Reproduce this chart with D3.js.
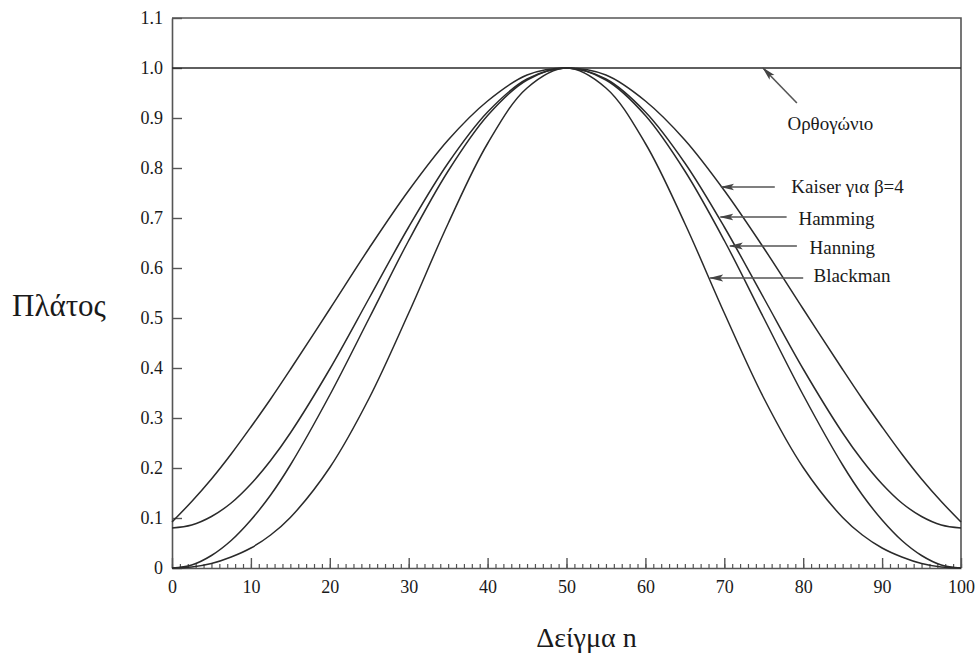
<!DOCTYPE html>
<html>
<head>
<meta charset="utf-8">
<script src="https://cdn.jsdelivr.net/npm/d3@7"></script>
<style>
  html, body { margin: 0; padding: 0; background: #ffffff; }
  svg { display: block; }
  svg text { font-family: "Liberation Serif", "Times New Roman", Tinos, "DejaVu Serif", serif !important; fill: #1a1a1a; }
</style>
</head>
<body>
<svg id="chart" width="979" height="657"></svg>
<script>
// ---- data ----
const samples = [0,2.5,5,7.5,10,12.5,15,20,25,30,35,40,45,50,55,60,65,70,75,80,85,87.5,90,92.5,95,97.5,100];
const rectangular = [1,1,1,1,1,1,1,1,1,1,1,1,1,1,1,1,1,1,1,1,1,1,1,1,1,1,1];
const kaiser   = [0.092,0.133,0.178,0.228,0.282,0.338,0.397,0.518,0.640,0.755,0.856,0.934,0.986,1.000,0.986,0.934,0.856,0.755,0.640,0.518,0.397,0.338,0.282,0.228,0.178,0.133,0.092];
const hamming  = [0.080,0.086,0.103,0.130,0.168,0.215,0.270,0.398,0.540,0.682,0.810,0.912,0.978,1.000,0.978,0.912,0.810,0.682,0.540,0.398,0.270,0.215,0.168,0.130,0.103,0.086,0.080];
const hanning  = [0.000,0.006,0.025,0.055,0.096,0.146,0.206,0.346,0.500,0.655,0.794,0.905,0.976,1.000,0.976,0.905,0.794,0.655,0.500,0.346,0.206,0.146,0.096,0.055,0.025,0.006,0.000];
const blackman = [0.000,0.002,0.009,0.022,0.040,0.066,0.101,0.201,0.340,0.510,0.689,0.849,0.960,1.000,0.960,0.849,0.689,0.510,0.340,0.201,0.101,0.066,0.040,0.022,0.009,0.002,0.000];
const xTickValues = [0,10,20,30,40,50,60,70,80,90,100];
const yTickValues = [0,0.1,0.2,0.3,0.4,0.5,0.6,0.7,0.8,0.9,1.0,1.1];
const yTickLabels = ["0","0.1","0.2","0.3","0.4","0.5","0.6","0.7","0.8","0.9","1.0","1.1"];
const annLabels = ["Ορθογώνιο","Kaiser για β=4","Hamming","Hanning","Blackman"];
const annTip    = [[74.9,1.0],[69.6,0.762],[69.5,0.702],[70.7,0.644],[68.2,0.580]];
const annTail   = [[79.2,0.930],[76.4,0.762],[77.9,0.702],[79.2,0.644],[80.0,0.580]];
const annText   = [[78.0,0.884],[78.5,0.758],[79.4,0.695],[80.8,0.637],[81.3,0.580]];
const xTitle = "Δείγμα n";
const yTitle = "Πλάτος";

// ---- layout ----
const svg = d3.select("#chart");
const mLeft = 172, mRight = 961, mTop = 18, mBottom = 568;
const x = d3.scaleLinear().domain([0,100]).range([mLeft,mRight]);
const y = d3.scaleLinear().domain([0,1.1]).range([mBottom,mTop]);
const axisColor = "#555";
const lineColor = "#2a2a2a";

// frame (top and right edges)
svg.append("path")
  .attr("d", `M${x(0)},${y(1.1)}H${x(100)}V${y(0)}`)
  .attr("fill","none").attr("stroke",axisColor).attr("stroke-width",1.6);

// y axis
const yAxis = d3.axisLeft(y).tickValues(yTickValues)
  .tickFormat((d,i)=>yTickLabels[i]).tickSizeInner(-10).tickSizeOuter(0).tickPadding(9);
const gy = svg.append("g").attr("transform",`translate(${mLeft},0)`).call(yAxis);
gy.attr("font-family",null);
gy.select(".domain").attr("stroke",axisColor).attr("stroke-width",1.6);
gy.selectAll(".tick line").attr("stroke",axisColor).attr("stroke-width",1.4);
gy.selectAll(".tick text").attr("font-size",18).attr("fill","#333").attr("x",-9);

// x axis minor ticks
const xMinor = d3.axisBottom(x).tickValues(d3.range(0,101,1)).tickFormat("").tickSizeInner(-4).tickSizeOuter(0);
const gxm = svg.append("g").attr("transform",`translate(0,${mBottom})`).call(xMinor);
gxm.select(".domain").attr("stroke",axisColor).attr("stroke-width",1.6);
gxm.selectAll(".tick line").attr("stroke",axisColor).attr("stroke-width",1.2);

// x axis major ticks
const xAxis = d3.axisBottom(x).tickValues(xTickValues).tickFormat(d3.format("d")).tickSizeInner(-10).tickSizeOuter(0).tickPadding(10);
const gx = svg.append("g").attr("transform",`translate(0,${mBottom})`).call(xAxis);
gx.attr("font-family",null);
gx.select(".domain").remove();
gx.selectAll(".tick line").attr("stroke",axisColor).attr("stroke-width",1.4);
gx.selectAll(".tick text").attr("font-size",18).attr("fill","#333").attr("y",12);

// curves
const line = d3.line().x((d,i)=>x(samples[i])).y(d=>y(d)).curve(d3.curveCatmullRom.alpha(0.5));
[rectangular,kaiser,hamming,hanning,blackman].forEach(s=>{
  svg.append("path").attr("d",line(s)).attr("fill","none")
    .attr("stroke",lineColor).attr("stroke-width",1.5);
});

// arrows
svg.append("defs").append("marker").attr("id","arrow")
  .attr("viewBox","0 0 14 8").attr("refX",13).attr("refY",4)
  .attr("markerWidth",14).attr("markerHeight",8).attr("markerUnits","userSpaceOnUse")
  .attr("orient","auto")
  .append("path").attr("d","M0,0.6L14,4L0,7.4L3,4Z").attr("fill","#444");

annLabels.forEach((lab,i)=>{
  svg.append("line")
    .attr("x1",x(annTail[i][0])).attr("y1",y(annTail[i][1]))
    .attr("x2",x(annTip[i][0])).attr("y2",y(annTip[i][1]))
    .attr("stroke","#555").attr("stroke-width",1.6).attr("marker-end","url(#arrow)");
  svg.append("text").attr("x",x(annText[i][0])).attr("y",y(annText[i][1]))
    .attr("font-size",19).attr("dominant-baseline","middle").text(lab);
});

// titles
svg.append("text").attr("x",x(50)+20).attr("y",647).attr("text-anchor","middle")
  .attr("font-size",28).text(xTitle);
svg.append("text").attr("x",12).attr("y",316)
  .attr("font-size",31).text(yTitle);
</script>
</body>
</html>
